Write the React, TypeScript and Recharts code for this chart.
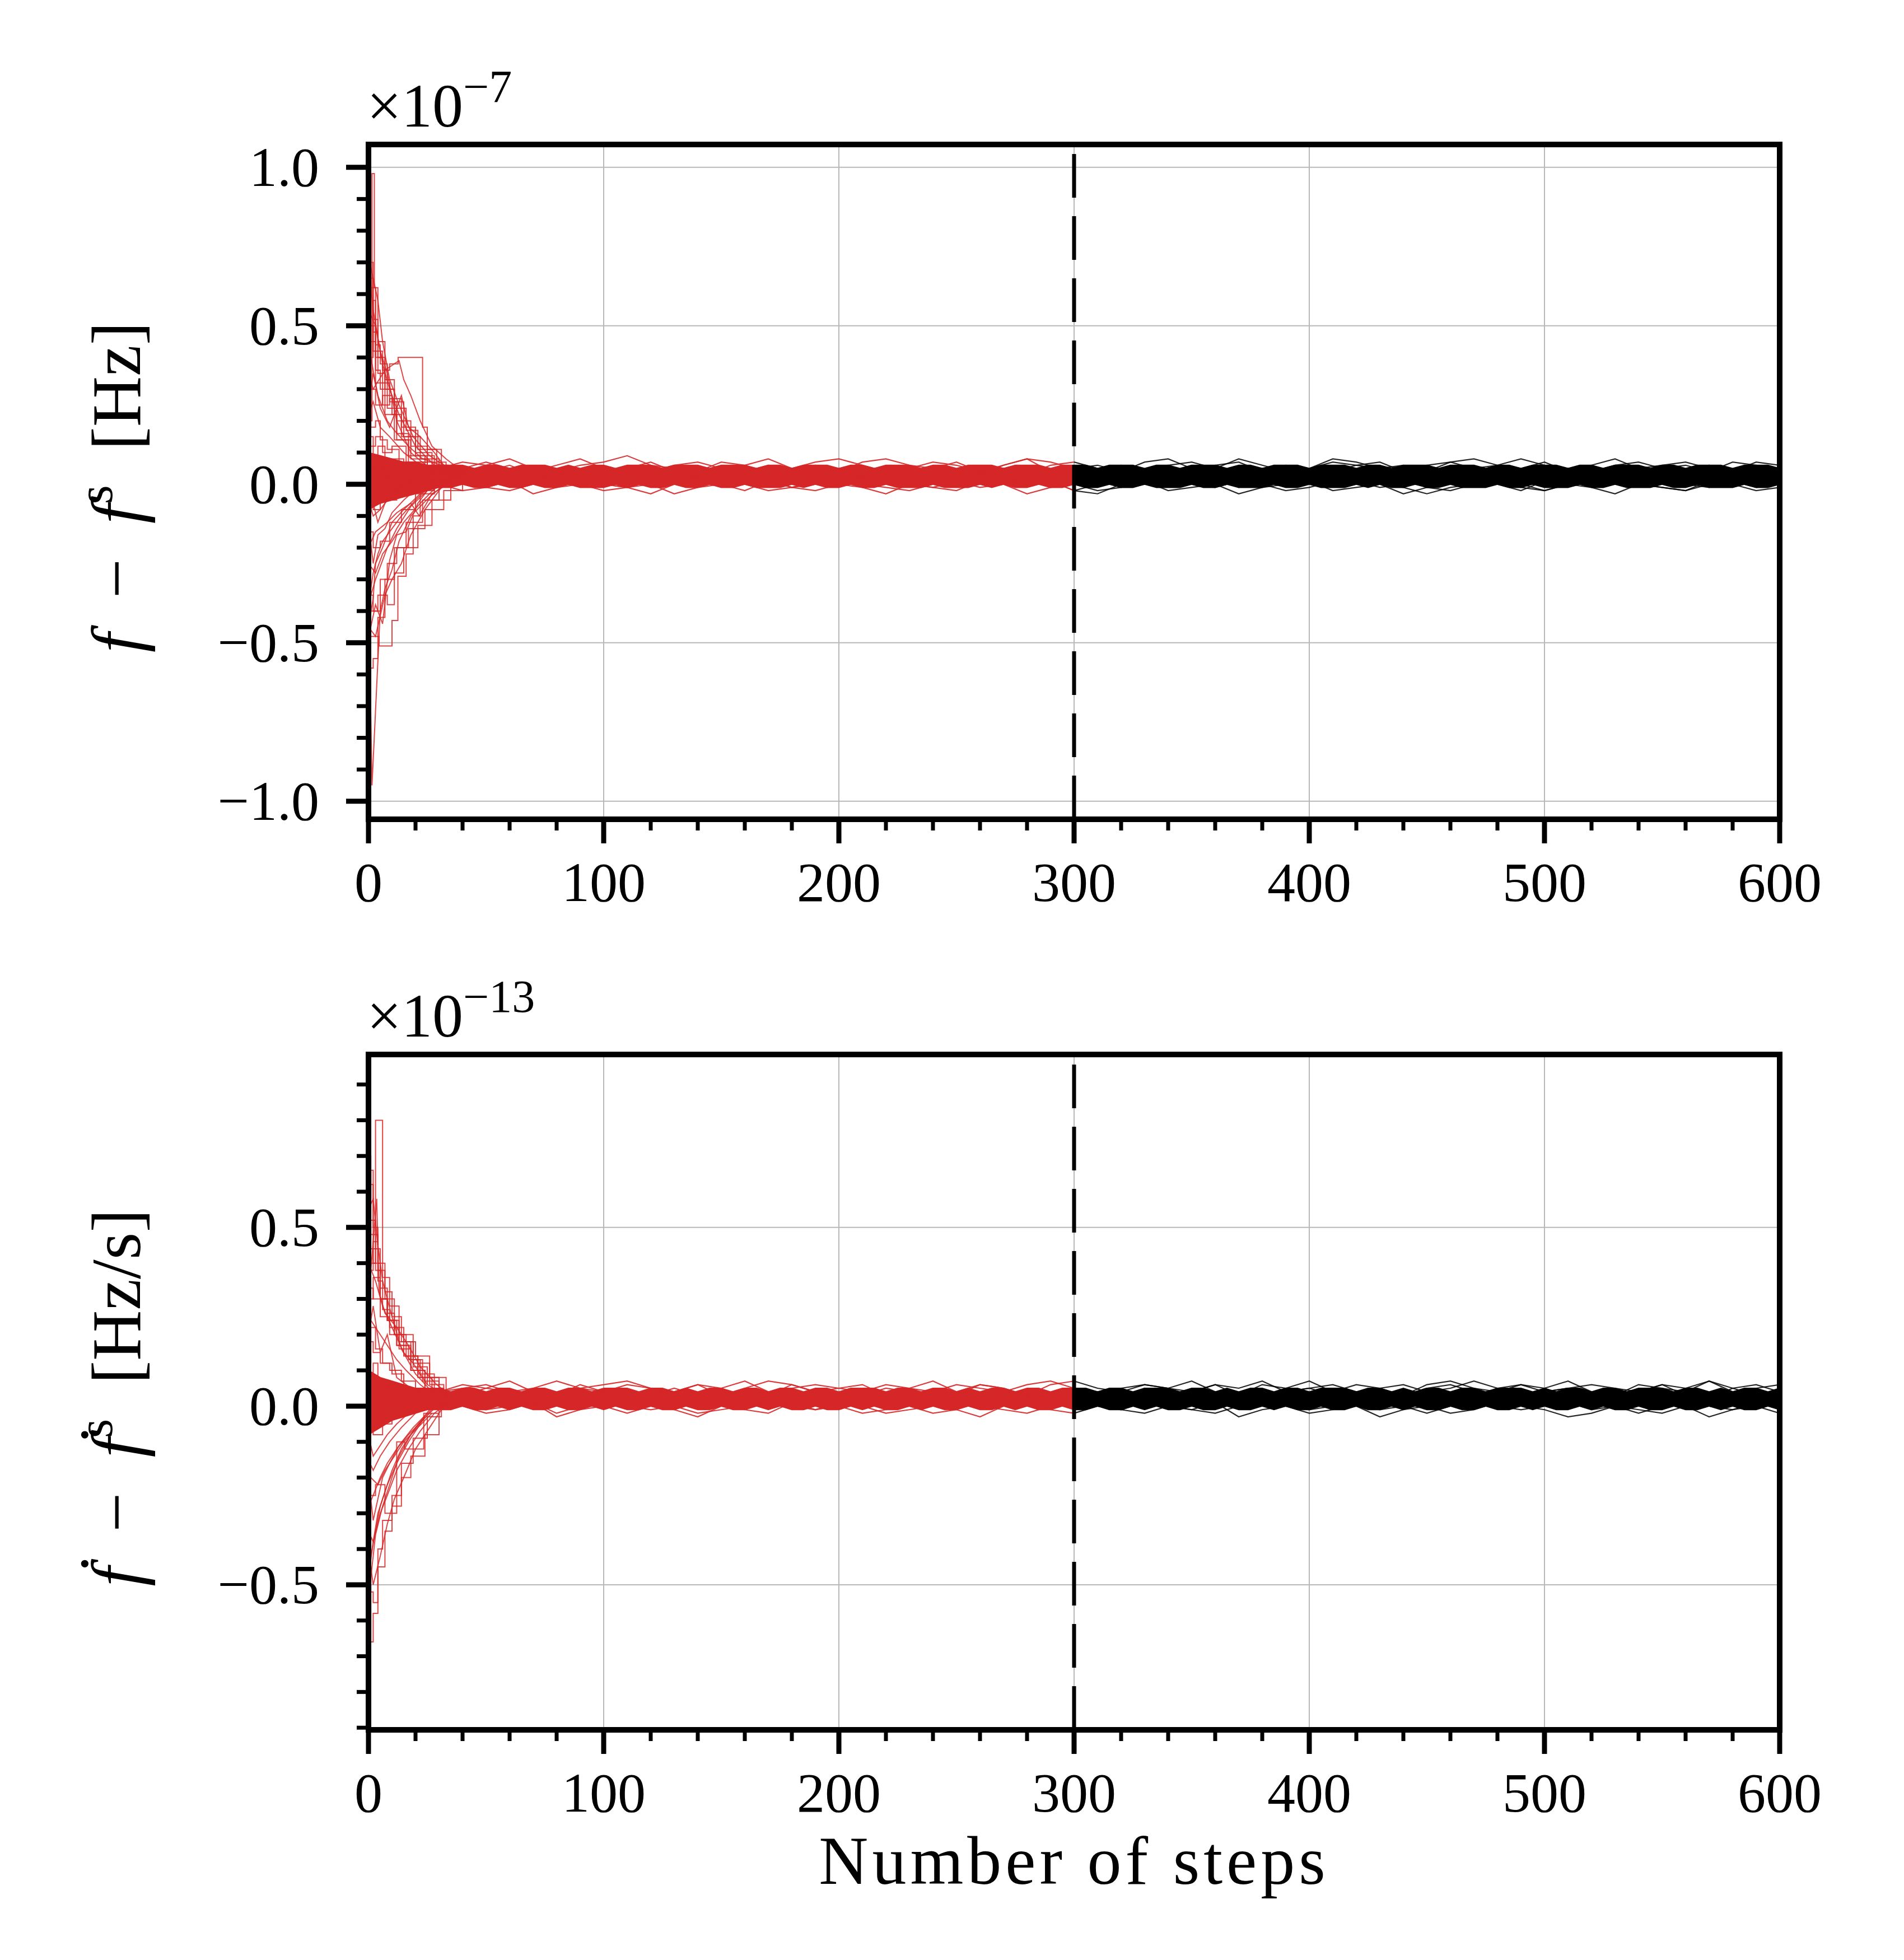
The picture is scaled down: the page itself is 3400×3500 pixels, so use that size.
import React from "react";
import {
  ComposedChart,
  Line,
  Area,
  XAxis,
  YAxis,
  CartesianGrid,
  ReferenceLine,
} from "recharts";

const FONT = "'Liberation Serif', 'DejaVu Serif', serif";
const RED = "#d62728";
const BLACK = "#000000";
const GRID = "#b8b8b8";

// axis ticks (minor every 20 steps / 0.1, labels on the majors)
const X_TICKS = [
  0, 20, 40, 60, 80, 100, 120, 140, 160, 180, 200, 220, 240, 260, 280, 300,
  320, 340, 360, 380, 400, 420, 440, 460, 480, 500, 520, 540, 560, 580, 600,
];
const X_GRID = [100, 200, 300, 400, 500];
const TOP_Y_TICKS = [
  -1.0, -0.9, -0.8, -0.7, -0.6, -0.5, -0.4, -0.3, -0.2, -0.1, 0, 0.1, 0.2,
  0.3, 0.4, 0.5, 0.6, 0.7, 0.8, 0.9, 1.0,
];
const TOP_Y_GRID = [-1.0, -0.5, 0, 0.5, 1.0];
const BOT_Y_TICKS = [
  -0.9, -0.8, -0.7, -0.6, -0.5, -0.4, -0.3, -0.2, -0.1, 0, 0.1, 0.2, 0.3, 0.4,
  0.5, 0.6, 0.7, 0.8, 0.9,
];
const BOT_Y_GRID = [-0.5, 0, 0.5];
const TOP_DOMAIN = [-1.057, 1.072];
const BOT_DOMAIN = [-0.906, 0.984];
const BURN_IN_END = 300;

// converged band envelope, every 5 steps, in hundredths of the axis unit
// red part: steps 0..300, black part: steps 300..600
const TOP_RED_HI = [
  10, 9, 8, 7, 7, 6, 6,
  6, 6, 5, 6, 6, 5, 6, 6, 6, 5,
  6, 5, 6, 6, 5, 6, 6, 6, 5, 6,
  6, 6, 5, 6, 6, 6, 5, 6, 6, 5,
  6, 6, 6, 5, 6, 6, 5, 6, 6, 6,
  5, 6, 6, 5, 6, 6, 6, 5, 6, 6,
  6, 5, 6, 6,
];
const TOP_RED_LO = [
  -8, -6, -5, -4, -3, -2, -1,
  -1, 0, -1, -1, 0, -1, -1, 0, -1, -1,
  0, -1, -1, -1, 0, -1, 0, -1, -1, 0,
  -1, -1, 0, -1, -1, 0, -1, -1, -1, 0,
  -1, 0, -1, -1, 0, -1, -1, 0, -1, -1,
  -1, 0, -1, -1, -1, 0, -1, 0, -1, -1,
  0, -1, -1, 0,
];
const TOP_BLACK_HI = [
  6, 6, 5, 6, 6, 6, 5, 6, 6, 5,
  6, 6, 6, 5, 6, 6, 5, 6, 6, 6,
  5, 6, 6, 6, 5, 6, 6, 5, 6, 6,
  6, 5, 6, 6, 6, 5, 6, 6, 5, 6,
  6, 6, 5, 6, 6, 5, 6, 6, 6, 5,
  6, 6, 5, 6, 6, 6, 5, 6, 6, 6,
  5,
];
const TOP_BLACK_LO = [
  0, -1, -1, 0, -1, -1, 0, -1, -1, -1,
  0, -1, -1, 0, -1, -1, -1, 0, -1, -1,
  0, -1, -1, -1, 0, -1, 0, -1, -1, 0,
  -1, -1, 0, -1, -1, -1, 0, -1, -1, 0,
  -1, -1, -1, 0, -1, -1, 0, -1, -1, -1,
  0, -1, -1, 0, -1, -1, -1, 0, -1, -1,
  0,
];
const BOT_RED_HI = [
  10, 8, 7, 6, 5, 5, 5,
  4, 5, 5, 4, 5, 5, 4, 5, 5, 4,
  5, 5, 4, 5, 5, 5, 4, 5, 5, 4,
  5, 4, 5, 5, 4, 5, 5, 4, 5, 5,
  4, 5, 5, 4, 5, 5, 5, 4, 5, 5,
  4, 5, 5, 4, 5, 4, 5, 5, 4, 5,
  5, 4, 5, 5,
];
const BOT_RED_LO = [
  -8, -6, -4, -3, -2, -1, -1,
  -1, 0, -1, -1, 0, -1, 0, -1, -1, 0,
  -1, -1, 0, -1, 0, -1, -1, 0, -1, -1,
  0, -1, -1, 0, -1, -1, 0, -1, 0, -1,
  -1, 0, -1, -1, 0, -1, 0, -1, -1, 0,
  -1, 0, -1, -1, 0, -1, -1, 0, -1, 0,
  -1, -1, 0, -1,
];
const BOT_BLACK_HI = [
  5, 5, 4, 5, 5, 4, 5, 5, 5, 4,
  5, 5, 4, 5, 4, 5, 5, 4, 5, 5,
  4, 5, 5, 5, 4, 5, 5, 4, 5, 4,
  5, 5, 4, 5, 5, 4, 5, 5, 5, 4,
  5, 4, 5, 5, 4, 5, 5, 4, 5, 5,
  5, 4, 5, 5, 4, 5, 4, 5, 5, 4,
  5,
];
const BOT_BLACK_LO = [
  -1, -1, 0, -1, -1, 0, -1, 0, -1, -1,
  0, -1, -1, 0, -1, -1, 0, -1, 0, -1,
  -1, 0, -1, -1, 0, -1, -1, 0, -1, 0,
  -1, -1, 0, -1, -1, 0, -1, -1, 0, -1,
  0, -1, -1, 0, -1, 0, -1, -1, 0, -1,
  -1, 0, -1, -1, 0, -1, 0, -1, -1, 0,
  -1,
];

// single walkers inside the band, every 10 steps from step 30 to 600
const TOP_WALKERS = [
  [3, 2, 4, 6, 3, 2, 1, 3, 5, 7, 4, 2, 3, 1, 2, 4, 3, 5, 2, 3,
   1, 2, 4, 3, 6, 8, 4, 3, 2, 3, 2, 1, 3, 4, 2, 5, 3, 2, 4, 6,
   7, 4, 3, 2, 1, 3, 2, 4, 5, 3, 2, 3, 4, 2, 6, 3, 1, 2],
  [2, 1, -1, -2, 0, 1, 2, 0, -1, -3, 0, 1, 2, 0, -2, -1, 1, 2, 0, -1,
   -2, 0, 1, -1, 0, 2, 1, -2, -3, 0, 1, 2, 0, -1, 1, 0, -2, -1, 1, 2,
   0, -1, -3, -1, 0, 1, 0, -2, 0, 1, 2, 0, -1, -2, 0, 1, -1, 0],
  [4, 5, 7, 5, 4, 6, 8, 5, 3, 4, 6, 7, 5, 4, 6, 5, 7, 8, 6, 4,
   5, 7, 6, 4, 5, 3, 6, 7, 5, 6, 4, 6, 7, 5, 8, 6, 4, 5, 7, 6,
   5, 4, 6, 7, 5, 6, 8, 6, 5, 4, 6, 7, 5, 6, 4, 7, 6, 5],
  [1, 3, 2, 0, 1, 4, 2, 0, -1, 1, 3, 2, 0, 1, 2, -1, 0, 3, 2, 1,
   0, -1, 1, 3, 2, 0, 1, -2, 0, 2, 3, 1, 0, 2, -1, 1, 3, 2, 0, 1,
   -1, 0, 2, 1, 3, 0, -2, 1, 2, 0, 1, 3, 2, 0, -1, 2, 1, 3],
  [5, 7, 6, 8, 5, 4, 6, 7, 9, 6, 5, 4, 7, 6, 8, 5, 6, 4, 7, 8,
   6, 5, 7, 4, 6, 8, 7, 5, 6, 4, 7, 8, 5, 6, 7, 4, 6, 5, 8, 7,
   5, 6, 4, 7, 8, 6, 5, 7, 4, 6, 8, 5, 6, 7, 5, 4, 7, 6],
  [0, -2, -1, 1, -3, -1, 0, -2, -1, 0, -3, -1, 0, -2, 1, -1, -2, 0, -1, -3,
   0, -1, -2, 1, 0, -3, -1, 0, -2, -1, 1, -2, -1, 0, -3, -1, 0, 1, -2, -1,
   0, -3, -1, -2, 0, 1, -1, -2, 0, -1, -3, 0, -1, -2, 1, 0, -2, -1],
];
const BOT_WALKERS = [
  [2, 3, 5, 4, 2, 3, 6, 4, 2, 3, 5, 3, 2, 4, 3, 6, 4, 2, 3, 5,
   4, 2, 3, 6, 5, 3, 2, 4, 3, 2, 5, 3, 4, 6, 3, 2, 4, 5, 3, 4,
   2, 3, 5, 6, 4, 3, 2, 4, 5, 3, 2, 4, 6, 3, 2, 5, 3, 4],
  [1, 0, -1, 0, 1, -2, 0, 1, 0, -1, 0, -2, -1, 0, 1, 0, -1, 1, 0, -2,
   -1, 0, 1, 0, -1, -2, 0, 1, 0, -1, 1, 0, -1, -2, 0, 1, 0, -1, 0, 1,
   -1, 0, -2, 0, 1, 0, -1, 0, 1, -1, 0, -2, 0, 1, 0, -1, 1, 0],
  [4, 5, 6, 4, 5, 7, 5, 4, 6, 5, 4, 6, 5, 7, 4, 5, 6, 5, 4, 6,
   5, 4, 6, 5, 4, 6, 7, 5, 4, 5, 6, 5, 4, 6, 5, 7, 4, 5, 6, 4,
   5, 6, 4, 5, 7, 5, 6, 4, 5, 6, 5, 4, 6, 5, 7, 4, 5, 6],
  [2, 1, 3, 2, 0, 1, 2, 3, 1, 0, 2, 1, 3, 0, 1, 2, 1, 3, 2, 0,
   1, 3, 2, 1, 0, 2, 1, 3, 2, 1, 0, 2, 3, 1, 2, 0, 1, 3, 2, 1,
   2, 0, 1, 3, 2, 1, 0, 2, 3, 1, 2, 1, 0, 3, 1, 2, 0, 1],
  [4, 6, 5, 7, 4, 3, 5, 6, 7, 5, 4, 6, 3, 5, 7, 6, 4, 5, 6, 3,
   5, 7, 4, 6, 5, 3, 6, 7, 5, 4, 6, 5, 7, 4, 3, 6, 5, 7, 4, 6,
   5, 3, 6, 7, 5, 4, 6, 5, 7, 4, 3, 6, 5, 4, 7, 5, 6, 4],
  [-1, 0, -2, -1, 1, -3, -1, 0, -2, 0, -1, -3, 0, -1, -2, 1, -1, 0, -2, -1,
   0, -2, -1, -3, 0, 1, -1, -2, 0, -1, -2, 0, -1, 1, -3, -1, 0, -2, -1, 0,
   -3, -1, 0, -2, -1, 1, 0, -1, -3, -2, 0, -1, -2, 0, -3, -1, 0, -2],
];

// burn-in walkers: [step, value*100, step, value*100, ...]
const TOP_BURN_IN = [
  [0, 20, 1.5, 98, 2.5, 62, 4, 45, 7, 30, 11, 14, 17, 7, 25, 4, 35, 3],
  [0, 70, 2, 55, 5, 42, 8, 35, 12, 20, 18, 10, 26, 5, 36, 3],
  [0, 68, 1, 62, 3, 40, 7, 33, 11, 26, 15, 15, 22, 8, 30, 4, 40, 3],
  [0, 55, 3, 50, 6, 38, 9, 30, 13, 22, 20, 12, 28, 6, 38, 2],
  [0, 45, 3, 42, 6, 36, 9, 38, 12.6, 40, 23, 18, 25, 11, 31, 4, 40, 3],
  [0, 35, 2, 30, 7, 36, 13, 39, 15, 33, 18, 28, 22, 20, 27, 12, 33, 8, 40, 4],
  [0, 30, 3, 25, 6, 28, 10, 22, 14, 15, 20, 9, 28, 5, 38, 3],
  [0, 22, 2, 26, 5, 18, 9, 15, 15, 10, 22, 6, 30, 3],
  [0, 12, 3, 15, 6, 10, 10, 12, 16, 7, 25, 4],
  [0, -5, 2, -10, 5, -8, 9, -4, 15, 0, 22, 2],
  [0, -15, 2, -20, 5, -18, 9, -12, 14, -8, 20, -3, 28, 1],
  [0, -25, 3, -28, 6, -22, 10, -18, 15, -12, 22, -6, 30, 0, 38, 2],
  [0, -35, 2, -40, 5, -30, 8, -25, 12, -20, 17, -14, 24, -8, 32, -2, 40, 2],
  [0, -30, 1.5, -95, 5, -40, 7, -33, 10, -27, 13, -18, 18, -10, 26, -4, 34, 1],
  [0, -48, 4.5, -51, 10, -43, 12.5, -29, 16, -22, 19, -10, 22, -2, 28, 1],
  [0, -45, 3, -48, 7, -35, 10, -30, 14, -25, 18, -16, 24, -8, 31, -1],
  [0, -40, 4, -35, 8, -38, 11, -28, 15, -20, 21, -13, 27, -5, 35, 1],
  [0, -20, 3, -15, 8, -12, 12, -9, 18, -6, 21.6, -10, 27, -3, 36, 1],
  [0, 65, 2, 48, 4, 35, 7, 22, 12, 14, 18, 8, 25, 5, 32, 3],
  [0, 45, 1, 40, 4, 28, 8, 20, 11, 17, 17, 12, 23, 8, 31, 6, 38, 3],
  [0, -58, 2, -55, 4, -42, 7, -30, 11, -20, 16, -12, 23, -5, 30, 0],
  [0, 25, 2, 35, 5, 24, 9, 18, 14, 28, 17, 18, 22, 15, 28, 10, 32, 6, 40, 3],
  [0, 8, 2, -8, 5, 5, 8, -5, 12, 3, 18, 0, 26, 2],
  [0, 72, 2, 65, 4, 58, 6, 45, 9, 33, 13, 25, 19, 15, 26, 9, 34, 5, 42, 3],
  [0, 15, 2, 5, 4, 12, 7, 2, 10, 8, 15, 4, 22, 3],
  [0, -10, 1, -3, 4, -12, 7, -6, 11, -2, 17, 1],
  [0, 40, 2, 50, 3, 32, 6, 25, 9, 27, 14, 18, 20, 10, 27, 6, 34, 4],
  [0, -52, 1, -45, 3, -38, 6, -44, 9, -24, 12, -16, 16, -15, 21, -6, 27, 0],
  [0, 58, 1, 50, 2, 42, 3, 36, 5, 30, 8, 24, 12, 16, 17, 9, 24, 5, 31, 3],
  [0, -22, 1, -35, 3, -30, 5, -26, 8, -20, 12, -14, 18, -7, 25, -2, 32, 1],
  [0, 50, 2, 58, 3, 44, 5, 38, 8, 30, 11, 24, 16, 17, 21, 11, 29, 5, 37, 3],
  [0, -38, 2, -28, 4, -22, 6, -18, 9, -15, 14, -10, 20, -5, 27, 0],
  [0, 28, 1, 18, 3, 20, 5, 14, 8, 11, 13, 7, 19, 4, 26, 3],
  [0, -45, 2, -36, 3, -25, 6, -20, 10, -12, 15, -8, 22, -3, 30, 1],
  [0, 60, 1, 70, 2, 52, 4, 40, 6, 32, 9, 26, 12, 20, 18, 12, 25, 7, 33, 4],
  [0, -12, 2, -25, 4, -16, 7, -14, 10, -9, 15, -5, 21, -1, 28, 2],
];
const BOT_BURN_IN = [
  [0, 40, 3, 80, 6, 36, 9, 28, 13, 18, 18, 10, 24, 5, 32, 3],
  [0, 55, 2, 58, 4, 45, 6, 35, 10, 25, 14, 16, 20, 9, 27, 4],
  [0, 48, 2, 40, 5, 30, 8, 24, 12, 17, 17, 13, 22, 8, 30, 3],
  [0, 40, 3, 35, 6, 28, 10, 22, 15, 15, 19, 12, 25, 6, 33, 3],
  [0, 33, 2, 30, 5, 25, 9, 20, 12, 17, 18, 13, 23, 7, 30, 3],
  [0, 25, 3, 22, 7, 18, 12, 13, 16, 10, 22, 6, 28, 3],
  [0, 18, 2, 15, 5, 12, 9, 10, 14, 7, 20, 4, 26, 2],
  [0, 10, 3, 8, 6, 5, 10, 6, 16, 3, 22, 2],
  [0, -5, 2, -8, 6, -5, 10, -3, 15, 0, 20, 1],
  [0, -15, 2, -18, 5, -14, 9, -10, 14, -6, 20, -2, 26, 1],
  [0, -25, 3, -22, 7, -30, 12, -10, 15.4, -12, 23.5, -2, 30, 1],
  [0, -35, 2, -38, 5, -30, 8, -25, 12, -18, 17, -12, 22, -7, 28, -2, 34, 1],
  [0, -45, 1, -66, 2, -58, 4, -45, 7, -35, 10, -25, 14, -16, 19, -9, 25, -3, 31, 1],
  [0, -40, 2, -50, 5, -42, 8, -33, 11, -26, 15, -20, 20, -12, 26, -6, 32, 0],
  [0, -52, 2, -55, 4, -40, 6, -32, 10, -28, 14, -20, 18, -14, 24, -8, 30, -2],
  [0, -28, 2, -25, 5, -20, 8, -16, 12, -12, 17, -8, 23, -4, 28, 0],
  [0, 62, 2, 50, 4, 38, 7, 30, 11, 20, 16, 14, 21, 9, 28, 4],
  [0, 45, 1, 38, 3.5, 58, 4.5, 32, 7, 26, 12, 22, 17, 17, 22, 11, 29, 6, 35, 3],
  [0, 30, 2, 36, 5, 33, 8, 26, 11, 22, 15, 18, 20, 14, 26, 8, 33, 3],
  [0, -10, 1, -20, 4, -22, 7, -18, 11, -14, 15, -10, 21, -6, 27, -2],
  [0, 70, 1, 52, 3, 44, 5, 30, 8, 24, 13, 20, 19, 11, 25, 6],
  [0, -60, 1, -48, 3, -36, 6, -28, 9, -22, 13, -14, 18, -8, 24, -3],
  [0, 5, 2, 12, 4, -4, 7, 6, 11, 0, 16, 3],
  [0, 20, 2, 28, 5, 15, 8, 20, 12, 8, 18, 5, 24, 3],
  [0, 52, 1, 44, 3, 38, 5, 30, 8, 24, 11, 20, 15, 14, 21, 8, 27, 4],
  [0, -30, 1, -42, 3, -35, 5, -28, 8, -22, 12, -16, 17, -10, 23, -4, 29, 0],
  [0, 38, 2, 46, 4, 35, 6, 27, 9, 22, 13, 16, 18, 10, 24, 5, 31, 3],
  [0, -48, 2, -38, 4, -30, 7, -24, 10, -18, 14, -12, 20, -6, 26, -1],
  [0, 12, 1, 22, 3, 16, 6, 12, 10, 9, 15, 5, 21, 3],
  [0, -20, 2, -32, 4, -26, 6, -20, 9, -16, 13, -11, 19, -6, 25, -2],
  [0, 58, 1, 66, 2, 48, 4, 40, 7, 32, 10, 25, 14, 18, 19, 12, 26, 6, 32, 3],
  [0, -8, 2, -14, 5, -11, 8, -8, 12, -5, 17, -2, 23, 1],
];

type Pt = { x: number; y: number };

function toPoints(flat: number[]): Pt[] {
  const pts: Pt[] = [];
  for (let i = 0; i < flat.length; i += 2) {
    pts.push({ x: flat[i], y: flat[i + 1] / 100 });
  }
  return pts;
}

function bandTable(redLo: number[], redHi: number[], blackLo: number[], blackHi: number[]) {
  const rows: any[] = [];
  const n = redLo.length;
  for (let i = 0; i < n + blackLo.length - 1; i++) {
    const row: any = { x: i * 5 };
    if (i < n) row.red = [redLo[i] / 100, redHi[i] / 100];
    if (i >= n - 1) row.black = [blackLo[i - n + 1] / 100, blackHi[i - n + 1] / 100];
    rows.push(row);
  }
  return rows;
}

function splitWalker(vals: number[]) {
  const pts = vals.map((v, i) => ({ x: 30 + i * 10, y: v / 100 }));
  return {
    red: pts.filter((p) => p.x <= BURN_IN_END),
    black: pts.filter((p) => p.x >= BURN_IN_END),
  };
}

const fmt = (v: number) => v.toFixed(1).replace("-", "\u2212");

function XTick({ x, y, payload, labelDy }: any) {
  const v = payload.value;
  const major = v % 100 === 0;
  return (
    <g>
      <line x1={x} x2={x} y1={y} y2={y + (major ? 43 : 20)} stroke="#000" strokeWidth={major ? 9 : 7} />
      {major && (
        <text x={x} y={y + labelDy} textAnchor="middle" fontFamily={FONT} fontSize={100} fill="#000">
          {v}
        </text>
      )}
    </g>
  );
}

function YTick({ x, y, payload }: any) {
  const v = payload.value;
  const major = Math.abs(v * 2 - Math.round(v * 2)) < 1e-6;
  return (
    <g>
      <line x1={x} x2={x - (major ? 40 : 21)} y1={y} y2={y} stroke="#000" strokeWidth={major ? 9 : 7} />
      {major && (
        <text x={x - 88} y={y + 33} textAnchor="end" fontFamily={FONT} fontSize={100} fill="#000">
          {fmt(v)}
        </text>
      )}
    </g>
  );
}

const topLabels = () => (
  <g fontFamily={FONT} fill="#000">
    <text x={250} y={870} transform="rotate(-90 250 870)" textAnchor="middle" fontSize={125}>
      <tspan fontStyle="italic">f</tspan>
      <tspan>{"\u2002\u2212\u2002"}</tspan>
      <tspan fontStyle="italic">f</tspan>
      <tspan fontSize={88} dy={-50}>s</tspan>
      <tspan dy={50}>{"\u2002[Hz]"}</tspan>
    </text>
    <text x={655} y={226} fontSize={110}>
      {"\u00d710"}
      <tspan fontSize={82} dy={-44}>{"\u22127"}</tspan>
    </text>
  </g>
);

const bottomLabels = () => (
  <g fontFamily={FONT} fill="#000">
    <text x={250} y={796} transform="rotate(-90 250 796)" textAnchor="middle" fontSize={125}>
      <tspan fontStyle="italic">{"\u1e1f"}</tspan>
      <tspan>{"\u2002\u2212\u2002"}</tspan>
      <tspan fontStyle="italic">{"\u1e1f"}</tspan>
      <tspan fontSize={88} dy={-50}>s</tspan>
      <tspan dy={50}>{"\u2002[Hz/s]"}</tspan>
    </text>
    <text x={655} y={151} fontSize={110}>
      {"\u00d710"}
      <tspan fontSize={82} dy={-44}>{"\u221213"}</tspan>
    </text>
  </g>
);

const xLabel = () => (
  <text x={1918} y={1664} textAnchor="middle" fontFamily={FONT} fontSize={122} letterSpacing={7} fill="#000">
    Number of steps
  </text>
);

type PanelProps = {
  height: number;
  band: any[];
  walkers: number[][];
  burnIn: number[][];
  domain: number[];
  yTicks: number[];
  yGrid: number[];
  margin: { top: number; right: number; bottom: number; left: number };
  labels: () => React.ReactElement;
  xLabelFn?: () => React.ReactElement;
};

function Panel({ height, band, walkers, burnIn, domain, yTicks, yGrid, margin, labels, xLabelFn }: PanelProps) {
  const split = walkers.map(splitWalker);
  const spine = { stroke: "#000", strokeWidth: 10, strokeLinecap: "square" as const, ifOverflow: "visible" as const };
  return (
    <ComposedChart width={3400} height={height} data={band} margin={margin}>
      <CartesianGrid horizontalValues={yGrid} verticalValues={X_GRID} stroke={GRID} strokeWidth={2} />
      <XAxis
        dataKey="x"
        type="number"
        domain={[0, 600]}
        ticks={X_TICKS}
        interval={0}
        allowDataOverflow
        axisLine={false}
        tickLine={false}
        tickSize={0}
        tickMargin={0}
        height={200}
        tick={<XTick labelDy={146} />}
        label={xLabelFn}
      />
      <YAxis
        type="number"
        domain={domain}
        ticks={yTicks}
        interval={0}
        allowDataOverflow
        axisLine={false}
        tickLine={false}
        tickSize={0}
        tickMargin={0}
        width={400}
        tick={<YTick />}
        label={labels}
      />
      <Area dataKey="red" type="linear" stroke={RED} strokeWidth={2} fill={RED} fillOpacity={1} dot={false} activeDot={false} isAnimationActive={false} />
      <Area dataKey="black" type="linear" stroke={BLACK} strokeWidth={2} fill={BLACK} fillOpacity={1} dot={false} activeDot={false} isAnimationActive={false} />
      {split.map((w, i) => (
        <Line key={`r${i}`} data={w.red} dataKey="y" type="linear" stroke={RED} strokeWidth={2.2} strokeOpacity={0.9} dot={false} activeDot={false} isAnimationActive={false} />
      ))}
      {split.map((w, i) => (
        <Line key={`b${i}`} data={w.black} dataKey="y" type="linear" stroke={BLACK} strokeWidth={2.2} strokeOpacity={0.85} dot={false} activeDot={false} isAnimationActive={false} />
      ))}
      {burnIn.map((flat, i) => (
        <Line
          key={`w${i}`}
          data={toPoints(flat)}
          dataKey="y"
          type={i % 2 === 0 ? "stepAfter" : "linear"}
          stroke={RED}
          strokeWidth={2}
          strokeOpacity={0.85}
          dot={false}
          activeDot={false}
          isAnimationActive={false}
        />
      ))}
      <ReferenceLine x={BURN_IN_END} stroke="#000" strokeWidth={7} strokeDasharray="78 33" />
      <ReferenceLine x={0} {...spine} />
      <ReferenceLine x={600} {...spine} />
      <ReferenceLine y={domain[0]} {...spine} />
      <ReferenceLine y={domain[1]} {...spine} />
    </ComposedChart>
  );
}

export default function App() {
  const topBand = bandTable(TOP_RED_LO, TOP_RED_HI, TOP_BLACK_LO, TOP_BLACK_HI);
  const botBand = bandTable(BOT_RED_LO, BOT_RED_HI, BOT_BLACK_LO, BOT_BLACK_HI);
  return (
    <div style={{ position: "absolute", left: 0, top: 0, width: 3400, height: 3500, background: "#fff" }}>
      <div style={{ position: "absolute", left: 0, top: 0 }}>
        <Panel
          height={1700}
          band={topBand}
          walkers={TOP_WALKERS}
          burnIn={TOP_BURN_IN}
          domain={TOP_DOMAIN}
          yTicks={TOP_Y_TICKS}
          yGrid={TOP_Y_GRID}
          margin={{ top: 258, right: 222, bottom: 37, left: 258 }}
          labels={topLabels}
        />
      </div>
      <div style={{ position: "absolute", left: 0, top: 1700 }}>
        <Panel
          height={1800}
          band={botBand}
          walkers={BOT_WALKERS}
          burnIn={BOT_BURN_IN}
          domain={BOT_DOMAIN}
          yTicks={BOT_Y_TICKS}
          yGrid={BOT_Y_GRID}
          margin={{ top: 183, right: 222, bottom: 211, left: 258 }}
          labels={bottomLabels}
          xLabelFn={xLabel}
        />
      </div>
    </div>
  );
}
